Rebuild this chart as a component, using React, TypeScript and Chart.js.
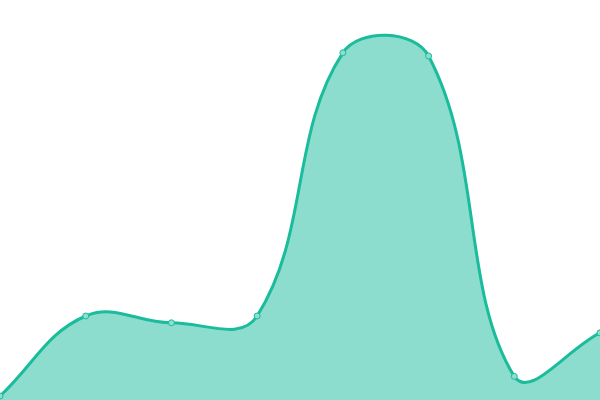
import { useRef, useEffect } from 'react';
import Chart from 'chart.js/auto';

const labels = ['1', '2', '3', '4', '5', '6', '7', '8'];
const values = [1, 21, 19.3, 21, 86.8, 86, 5.9, 16.8];

const App = () => {
  const chartRef = useRef<HTMLCanvasElement | null>(null);
  const chartInstance = useRef<Chart | null>(null);

  useEffect(() => {
    if (!chartRef.current) return;

    chartInstance.current = new Chart(chartRef.current, {
      type: 'line',
      data: {
        labels,
        datasets: [
          {
            data: values,
            fill: true,
            tension: 0.4,
            borderColor: 'rgb(26, 188, 156)',
            backgroundColor: 'rgba(26, 188, 156, 0.5)',
            borderWidth: 3,
            pointRadius: 3,
            pointBorderWidth: 1,
            pointBackgroundColor: 'rgb(140, 222, 206)',
            pointBorderColor: 'rgb(26, 188, 156)',
          },
        ],
      },
      options: {
        animation: false,
        responsive: false,
        maintainAspectRatio: false,
        layout: { padding: 0, autoPadding: false },
        scales: {
          x: { display: false },
          y: { display: false, min: 0, max: 100 },
        },
        plugins: {
          legend: { display: false },
          tooltip: { enabled: false },
        },
      },
    });

    return () => {
      chartInstance.current?.destroy();
      chartInstance.current = null;
    };
  }, []);

  return (
    <div style={{ position: 'fixed', left: 0, top: 0, width: 600, height: 400, background: '#fff' }}>
      <canvas ref={chartRef} width={600} height={400} style={{ width: 600, height: 400 }}></canvas>
    </div>
  );
};

export default App;
